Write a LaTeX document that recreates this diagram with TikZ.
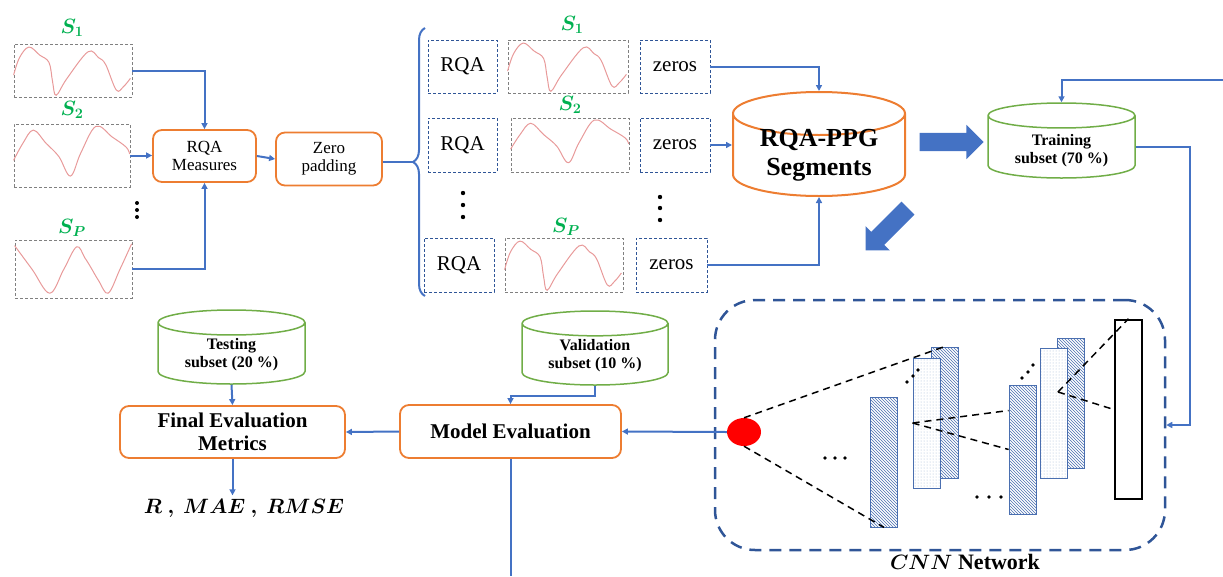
\documentclass[tikz,border=0pt]{standalone}
\usepackage{fontspec}
\setmainfont{Liberation Serif}
\usepackage{bm}
\usetikzlibrary{shapes.geometric,shapes.arrows,arrows.meta,patterns,decorations.pathreplacing,calc}
\definecolor{lineblue}{HTML}{4472C4}
\definecolor{boxorange}{HTML}{ED7D31}
\definecolor{dbgreen}{HTML}{70AD47}
\definecolor{labgreen}{HTML}{00B050}
\definecolor{darkblue}{HTML}{2F5597}
\definecolor{wavepink}{HTML}{E89A9A}
\definecolor{hatchblue}{HTML}{4A6FB0}
\tikzset{
  sigbox/.style={draw=gray, dash pattern=on 3pt off 2pt, line width=0.8pt, inner sep=0pt},
  partbox/.style={draw=darkblue, dash pattern=on 3pt off 2pt, line width=0.9pt, inner sep=0pt, font=\fontsize{21}{23}\selectfont},
  procbox/.style={draw=boxorange, rounded corners=9pt, line width=1.8pt, align=center, inner sep=0pt},
  dbase/.style={cylinder, shape border rotate=90, anchor=shape center, draw=dbgreen, line width=1.5pt, inner sep=0pt, aspect=0.17},
  dbtext/.style={align=center, inner sep=0pt, font=\bfseries\fontsize{16}{18}\selectfont},
  link/.style={draw=lineblue, line width=2pt},
  conn/.style={link, -{Triangle[length=6pt,width=6pt]}},
  wave/.style={draw=wavepink, line width=1pt},
  slabel/.style={text=labgreen, font=\fontsize{22}{24}\selectfont},
  bigarrow/.style={single arrow, fill=lineblue, inner xsep=0pt, inner ysep=9pt, single arrow head extend=8pt},
  layerh/.style={draw=hatchblue, line width=0.8pt, preaction={fill=white}, pattern=north west lines, pattern color=hatchblue, minimum width=27pt, inner sep=0pt},
  layerd/.style={draw=hatchblue, line width=0.8pt, preaction={fill=white}, pattern=dots, pattern color=hatchblue!50, minimum width=27pt, inner sep=0pt},
  cnnline/.style={draw=black, line width=1.5pt, dash pattern=on 7pt off 5pt}
}
\newcommand{\waveA}{\draw[wave] plot[smooth,tension=0.6] coordinates {(0,.42) (.05,.75) (.13,.95) (.22,.80) (.30,.66) (.33,.30) (.36,.04) (.45,.35) (.63,.86) (.72,.75) (.78,.62) (.87,.14) (.93,.2) (.99,.36)};}
\newcommand{\waveB}{\draw[wave] plot[smooth,tension=0.6] coordinates {(0,.43) (.08,.7) (.17,.91) (.28,.7) (.39,.49) (.49,.18) (.58,.55) (.71,.97) (.85,.8) (.97,.64) (1,.53)};}
\newcommand{\waveC}{\draw[wave] plot[smooth,tension=0.6] coordinates {(0,.91) (.15,.5) (.30,.09) (.42,.5) (.53,.89) (.60,.7) (.65,.54) (.72,.3) (.80,.09) (.9,.5) (1,.94)};}
\begin{document}
\begin{tikzpicture}[x=1pt,y=-1pt]
\useasboundingbox (0,0) rectangle (1223,576);
\node[slabel] (labA) at (72,28){$\bm{S_1}$};
\node[slabel] (labB) at (72,110){$\bm{S_2}$};
\node[slabel] (labP) at (72,228){$\bm{S_P}$};
\node[sigbox, minimum width=118pt, minimum height=53pt] (sigA) at (73,70.5){};
\node[sigbox, minimum width=116pt, minimum height=63pt] (sigB) at (72,155.5){};
\node[sigbox, minimum width=117pt, minimum height=58pt] (sigP) at (73.5,269){};
\begin{scope}[shift={(sigA.south west)},x=118pt,y=53pt]\waveA\end{scope}
\begin{scope}[shift={(sigB.south west)},x=116pt,y=63pt]\waveB\end{scope}
\begin{scope}[shift={(sigP.south west)},x=117pt,y=58pt]\waveC\end{scope}
\foreach \yy in {203,210,217} \fill (137,\yy) circle (2pt);
\node[procbox, minimum width=103pt, minimum height=52pt, font=\fontsize{17}{18}\selectfont] (rqa) at (204.5,156){RQA\\Measures};
\node[procbox, minimum width=106pt, minimum height=53pt, font=\fontsize{17}{18}\selectfont] (zpad) at (329,159){Zero\\padding};
\draw[conn] (sigA.east) -| (rqa.north);
\draw[conn] (sigB.east) -- (rqa.west |- sigB.east);
\draw[conn] (sigP.east) -| (rqa.south);
\draw[conn] (rqa.east) -- (zpad.west);
\draw[link, decorate, decoration={brace, amplitude=12pt}] (425,296) -- (425,28);
\coordinate (bTip) at (413,162);
\draw[link] (zpad.east |- bTip) -- (bTip);
\node[slabel] (rowLabA) at (572,25){$\bm{S_1}$};
\node[slabel] (rowLabB) at (570,105){$\bm{S_2}$};
\node[slabel] (rowLabP) at (566,227){$\bm{S_P}$};
\node[partbox, minimum width=69pt, minimum height=53pt] (rqaA) at (462.5,66.5){RQA};
\node[sigbox, minimum width=120pt, minimum height=53pt] (segA) at (568,66.5){};
\node[partbox, minimum width=70pt, minimum height=53pt] (zerA) at (675,66.5){zeros};
\node[partbox, minimum width=69pt, minimum height=54pt] (rqaB) at (462.5,145){RQA};
\node[sigbox, minimum width=118pt, minimum height=54pt] (segB) at (570,145){};
\node[partbox, minimum width=70pt, minimum height=54pt] (zerB) at (675,145){zeros};
\node[partbox, minimum width=70pt, minimum height=54pt] (rqaP) at (459,265){RQA};
\node[sigbox, minimum width=118pt, minimum height=54pt] (segP) at (564,265){};
\node[partbox, minimum width=71pt, minimum height=54pt] (zerP) at (671.5,265){zeros};
\begin{scope}[shift={(segA.south west)},x=120pt,y=53pt]\waveA\end{scope}
\begin{scope}[shift={(segB.south west)},x=118pt,y=54pt]\waveB\end{scope}
\begin{scope}[shift={(segP.south west)},x=118pt,y=54pt]\waveA\end{scope}
\foreach \yy in {193,205,217} \fill (463,\yy) circle (2.2pt);
\foreach \yy in {197,208,220} \fill (660,\yy) circle (2.2pt);
\node[dbase, draw=boxorange, line width=2pt, text width=172pt, minimum height=104pt, aspect=0.25] (seg) at (819,144){};
\node[dbtext, font=\bfseries\fontsize{26}{29}\selectfont] (segTxt) at ($(seg.shape center)+(0,11)$){RQA-PPG\\Segments};
\draw[conn] (zerA.east) -| (seg.north);
\draw[conn] (zerB.east) -- (seg.west |- zerB.east);
\draw[conn] (zerP.east) -| (seg.south);
\node[bigarrow, minimum height=64pt] (arrR) at (947,142){};
\node[bigarrow, minimum height=60pt, rotate=225] (arrD) at (890,226){};
\node[dbase, text width=147pt, minimum height=75pt] (train) at (1061.5,140.5){};
\node[dbtext] (trainTxt) at ($(train.shape center)+(0,10)$){Training\\subset (70 \%)};
\coordinate (edgeT) at (1223,80);
\coordinate (trCorner) at (1190,425);
\draw[conn] (edgeT) -| (train.north);
\node[draw=darkblue, dash pattern=on 12pt off 8pt, line width=2.5pt, rounded corners=40pt, minimum width=450pt, minimum height=250pt] (cnn) at (940,425){};
\node[font=\fontsize{22}{24}\selectfont] (cnnLab) at (965,562){$\bm{CNN}$ \textbf{Network}};
\draw[conn] (train.east) -| (trCorner) -- (cnn.east);
\node[ellipse, fill=red, minimum width=34pt, minimum height=28pt, inner sep=0pt] (inp) at (744,432){};
\node[layerh, minimum height=130pt] (convA) at (884,462){};
\node[layerh, minimum height=131pt] (poolA) at (944.5,412.5){};
\node[layerd, minimum height=130pt] (actA) at (926.5,423){};
\node[layerh, minimum height=129pt] (convB) at (1022.5,449.5){};
\node[layerh, minimum height=130pt] (poolB) at (1070.5,403){};
\node[layerd, minimum height=130pt] (actB) at (1053.5,413){};
\node[draw=black, line width=2.5pt, minimum width=27pt, minimum height=179pt, inner sep=0pt] (outp) at (1128.5,409.5){};
\coordinate (jB) at (1058,392);
\draw[cnnline] (inp.north) -- (poolA.north);
\draw[cnnline] (inp.south) -- (convA.south);
\draw[cnnline] (actA.west) -- ($(convB.west)+(0,-39)$);
\draw[cnnline] (actA.west) -- (convB.west);
\draw[cnnline] (jB) -- (outp.north);
\draw[cnnline] (jB) -- (outp.west);
\foreach \xx in {825,835,845} \fill (\xx,458) circle (1.8pt);
\foreach \xx in {977,989,1001} \fill (\xx,497) circle (1.8pt);
\foreach \xx/\yy in {907/382,913/376,918/370,1022/378,1028/372,1033/365} \fill (\xx,\yy) circle (1.8pt);
\node[procbox, minimum width=221pt, minimum height=53pt, font=\bfseries\fontsize{21}{23}\selectfont] (modev) at (510.5,431.5){Model Evaluation};
\node[procbox, minimum width=225pt, minimum height=52pt, font=\bfseries\fontsize{21}{23}\selectfont] (final) at (232.5,432){Final Evaluation\\Metrics};
\node[dbase, text width=147pt, minimum height=74pt] (test) at (231.5,347){};
\node[dbtext] (testTxt) at ($(test.shape center)+(0,8)$){Testing\\subset (20 \%)};
\node[dbase, text width=146pt, minimum height=74pt] (valid) at (595,348){};
\node[dbtext] (validTxt) at ($(valid.shape center)+(0,8)$){Validation\\subset (10 \%)};
\node[font=\fontsize{22}{24}\selectfont] (metr) at (244,508){$\bm{R\ ,\ MAE\ ,\ RMSE}$};
\coordinate (edgeB) at (512,576);
\draw[conn] (inp.west) -- (modev.east);
\draw[conn] (modev.west) -- (final.east);
\draw[conn] (test.south) -- (final.north);
\draw[conn] (valid.south) -- ++(0,10) -| (modev.north);
\draw[conn] (final.south) -- (final.south |- metr.north);
\draw[link] (modev.south) -- (modev.south |- edgeB);
\end{tikzpicture}
\end{document}
